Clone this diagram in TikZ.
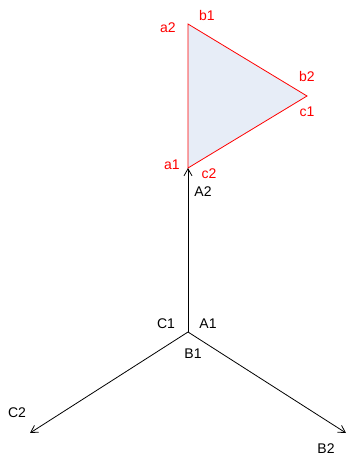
\documentclass[tikz,border=0pt]{standalone}
\usepackage{fontspec}
\setmainfont{Liberation Sans}
\usetikzlibrary{arrows.meta}
\definecolor{trifill}{RGB}{231,237,247}

\begin{document}
\begin{tikzpicture}[
    x=1pt, y=-1pt,
    axis line/.style={draw=black, line width=0.8pt, -{Straight Barb[length=7pt,width=8pt]}},
    tri face/.style={draw=red, line width=0.8pt, fill=trifill, line join=miter},
    axis label/.style={inner sep=0pt, font=\fontsize{14}{16}\selectfont, text=black},
    tri label/.style={inner sep=0pt, font=\fontsize{14}{16}\selectfont, text=red}
]
\useasboundingbox (0,0) rectangle (349,456);

% origin and arrow ends
\coordinate (O)    at (188,332);
\coordinate (Aend) at (188,168);
\coordinate (Bend) at (346,433);
\coordinate (Cend) at (30,433);

% triangle corners
\coordinate (T1) at (188,168);
\coordinate (T2) at (188,24);
\coordinate (T3) at (307,96);

% triangle
\path[tri face] (T1) -- (T2) -- (T3) -- cycle;

% axes out of the origin
\draw[axis line] (O) -- (Aend);
\draw[axis line] (O) -- (Bend);
\draw[axis line] (O) -- (Cend);

% axis labels
\node[axis label] (lC1) at (166,324) {C1};
\node[axis label] (lA1) at (208,324) {A1};
\node[axis label] (lB1) at (193,354) {B1};
\node[axis label] (lA2) at (203,192) {A2};
\node[axis label] (lC2) at (17,413)  {C2};
\node[axis label] (lB2) at (326,449) {B2};

% triangle labels
\node[tri label] (la1) at (172,165) {a1};
\node[tri label] (lc2) at (209,174) {c2};
\node[tri label] (la2) at (168,28)  {a2};
\node[tri label] (lb1) at (207,15)  {b1};
\node[tri label] (lb2) at (307,76)  {b2};
\node[tri label] (lc1) at (307,112) {c1};

\end{tikzpicture}
\end{document}
